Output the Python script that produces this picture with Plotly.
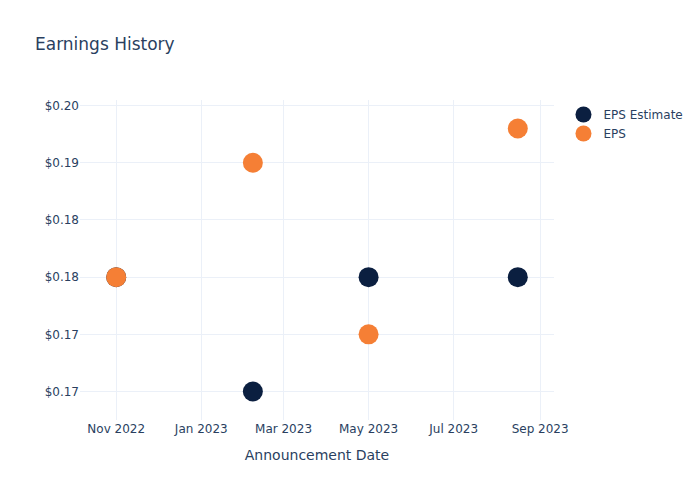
import plotly.graph_objects as go

dates = ["2022-11-01", "2023-02-07", "2023-05-01", "2023-08-16"]
eps_estimate = [0.18, 0.17, 0.18, 0.18]
eps_actual = [0.18, 0.19, 0.175, 0.193]

fig = go.Figure()
fig.add_trace(go.Scatter(x=dates, y=eps_estimate, mode="markers", name="EPS Estimate",
                         marker=dict(color="#0b1f40", size=20)))
fig.add_trace(go.Scatter(x=dates, y=eps_actual, mode="markers", name="EPS",
                         marker=dict(color="#f57f35", size=20)))
fig.update_layout(
    template="plotly_white",
    width=700, height=500,
    font=dict(family="DejaVu Sans"),
    title=dict(text="Earnings History"),
    xaxis=dict(title=dict(text="Announcement Date")),
    yaxis=dict(tickformat="$.2f"),
)
fig.write_html("out.html")
